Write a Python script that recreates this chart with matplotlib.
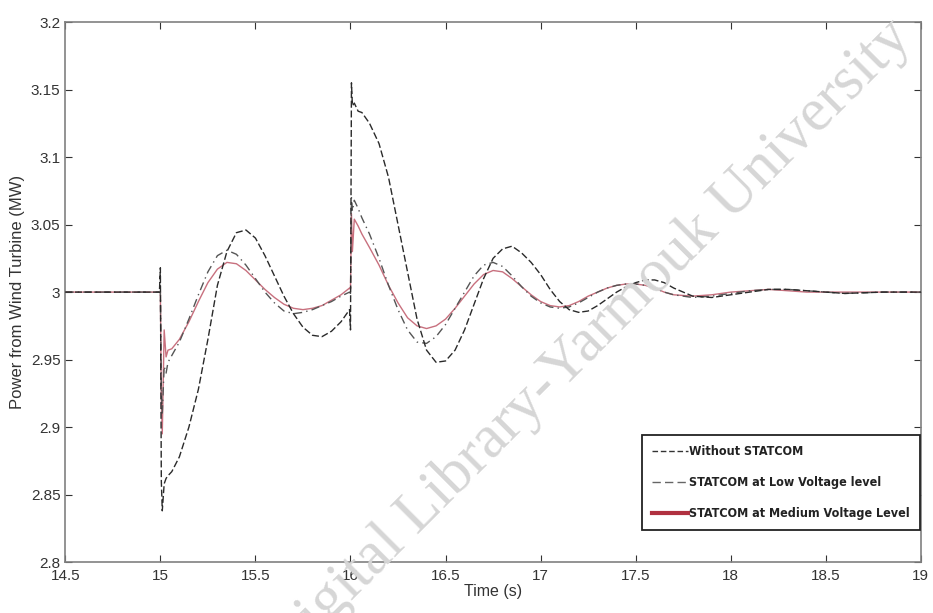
import matplotlib
matplotlib.use('Agg')
import matplotlib.pyplot as plt
from matplotlib import font_manager
from matplotlib.lines import Line2D

# time axis (s), shared by the three traces
t = [14.5, 14.995, 15.0, 15.005, 15.01, 15.02, 15.03, 15.04, 15.06, 15.1,
     15.15, 15.2, 15.25, 15.3, 15.35, 15.4, 15.45, 15.5, 15.55, 15.6,
     15.65, 15.7, 15.75, 15.8, 15.85, 15.9, 15.95, 15.995, 16.0, 16.005,
     16.01, 16.02, 16.04, 16.06, 16.1, 16.15, 16.2, 16.25, 16.3, 16.35,
     16.4, 16.45, 16.5, 16.55, 16.6, 16.65, 16.7, 16.75, 16.8, 16.85,
     16.9, 16.95, 17.0, 17.05, 17.1, 17.15, 17.2, 17.25, 17.3, 17.35,
     17.4, 17.45, 17.5, 17.55, 17.6, 17.65, 17.7, 17.8, 17.9, 18.0,
     18.1, 18.2, 18.3, 18.4, 18.5, 18.6, 18.8, 19.0]

# power (MW)
p_without = [3.0, 3.0, 3.018, 2.86, 2.838, 2.858, 2.862, 2.864, 2.867, 2.878,
             2.9, 2.928, 2.965, 3.005, 3.03, 3.044, 3.046, 3.04, 3.027, 3.012,
             2.997, 2.984, 2.974, 2.968, 2.967, 2.971, 2.978, 2.987, 2.972, 3.155,
             3.138, 3.14, 3.134, 3.133, 3.125, 3.11, 3.085, 3.05, 3.015, 2.98,
             2.957, 2.948, 2.949, 2.957, 2.972, 2.991, 3.01, 3.025, 3.032, 3.034,
             3.029, 3.022, 3.013, 3.002, 2.993, 2.987, 2.985, 2.986, 2.99, 2.995,
             3.0, 3.004, 3.007, 3.009, 3.009, 3.007, 3.003, 2.997, 2.996, 2.998,
             3.0, 3.002, 3.002, 3.001, 3.0, 2.999, 3.0, 3.0]

p_low = [3.0, 3.0, 3.0, 2.93, 2.91, 2.945, 2.94, 2.948, 2.953, 2.963,
         2.98, 2.998, 3.015, 3.027, 3.031, 3.028, 3.02, 3.01, 3.0, 2.992,
         2.986, 2.984, 2.985, 2.987, 2.99, 2.993, 2.997, 3.0, 2.999, 3.07,
         3.06, 3.068, 3.062, 3.055, 3.043, 3.025, 3.005, 2.987, 2.972, 2.963,
         2.962, 2.967, 2.976, 2.988, 3.0, 3.012, 3.02, 3.022, 3.019, 3.012,
         3.004, 2.997, 2.992, 2.989, 2.988, 2.989, 2.992, 2.996, 3.0, 3.003,
         3.005, 3.006, 3.006, 3.005, 3.003, 3.0, 2.998, 2.996, 2.997, 2.999,
         3.001, 3.002, 3.002, 3.001, 3.0, 2.999, 3.0, 3.0]

p_medium = [3.0, 3.0, 3.0, 2.92, 2.895, 2.972, 2.952, 2.957, 2.958, 2.965,
            2.978, 2.993, 3.007, 3.017, 3.022, 3.021, 3.016, 3.009, 3.002, 2.996,
            2.991, 2.988, 2.987, 2.988, 2.99, 2.994, 2.998, 3.003, 3.002, 3.058,
            3.03, 3.054, 3.049, 3.043, 3.033, 3.02, 3.005, 2.992, 2.981, 2.975,
            2.973, 2.975, 2.98, 2.988, 2.997, 3.006, 3.013, 3.016, 3.015, 3.01,
            3.004, 2.998, 2.993, 2.99, 2.989, 2.99, 2.993, 2.997, 3.0, 3.003,
            3.005, 3.006, 3.006, 3.005, 3.003, 3.0, 2.998, 2.997, 2.998, 3.0,
            3.001, 3.002, 3.001, 3.0, 3.0, 3.0, 3.0, 3.0]

labels = ['Without STATCOM', 'STATCOM at Low Voltage level',
          'STATCOM at Medium Voltage Level']

xticks = [14.5, 15, 15.5, 16, 16.5, 17, 17.5, 18, 18.5, 19]
yticks = [2.8, 2.85, 2.9, 2.95, 3.0, 3.05, 3.1, 3.15, 3.2]

plt.rcParams['font.family'] = ['Liberation Sans', 'DejaVu Sans']

# narrow bold face for the legend, if one is installed
narrow = None
for f in font_manager.fontManager.ttflist:
    fn = f.fname.lower()
    if ('narrow' in fn or 'condensed' in fn) and 'bold' in fn and 'oblique' not in fn \
            and 'italic' not in fn:
        narrow = f.fname
        break
if narrow:
    leg_prop = font_manager.FontProperties(fname=narrow, size=9.0)
else:
    leg_prop = font_manager.FontProperties(family=['Liberation Sans', 'DejaVu Sans'],
                                           weight='bold', size=8)

fig = plt.figure(figsize=(9.33, 6.13), dpi=100)
ax = fig.add_axes([0.070, 0.083, 0.917, 0.881])

# faint watermark
fig.text(0.632, 0.442, 'Digital Library-Yarmouk University', fontsize=44,
         family=['Liberation Serif', 'DejaVu Serif'],
         color='#d6d6d6', rotation=45, ha='center', va='center', zorder=0)
ax.patch.set_alpha(0)

ax.plot(t, p_medium, color='#c8707e', lw=1.0, zorder=2)
ax.plot(t, p_low, color='#555555', lw=1.0, ls=(0, (6, 3, 1, 3)), zorder=3)
ax.plot(t, p_without, color='#2a2a2a', lw=1.0, ls=(0, (5, 2)), zorder=4)

ax.set_xlim(14.5, 19)
ax.set_ylim(2.8, 3.2)
ax.set_xticks(xticks)
ax.set_xticklabels(['%g' % v for v in xticks])
ax.set_yticks(yticks)
ax.set_yticklabels(['%g' % v for v in yticks])
ax.tick_params(direction='in', top=True, right=True, length=5, width=0.8,
               colors='#333333', labelsize=11)
ax.tick_params(axis='x', pad=5)
for s in ax.spines.values():
    s.set_color('#808080')
    s.set_linewidth(1.2)

ax.set_xlabel('Time (s)', fontsize=11.5, color='#333333', labelpad=1)
ax.set_ylabel('Power from Wind Turbine (MW)', fontsize=12, color='#333333',
              labelpad=4)

handles = [Line2D([], [], color='#333333', lw=1.0, ls=(0, (4, 2))),
           Line2D([], [], color='#666666', lw=1.0, ls=(0, (6, 3))),
           Line2D([], [], color='#b03040', lw=3.0)]
leg = ax.legend(handles, labels, loc='lower right', bbox_to_anchor=(0.999, 0.059),
                borderaxespad=0, fancybox=False, framealpha=1, edgecolor='#222222',
                handlelength=2.9, handletextpad=0.1, labelspacing=1.45,
                borderpad=0.8, prop=leg_prop)
leg.get_frame().set_linewidth(1.3)
for txt in leg.get_texts():
    txt.set_color('#222222')

fig.savefig('out.png', dpi=100)
